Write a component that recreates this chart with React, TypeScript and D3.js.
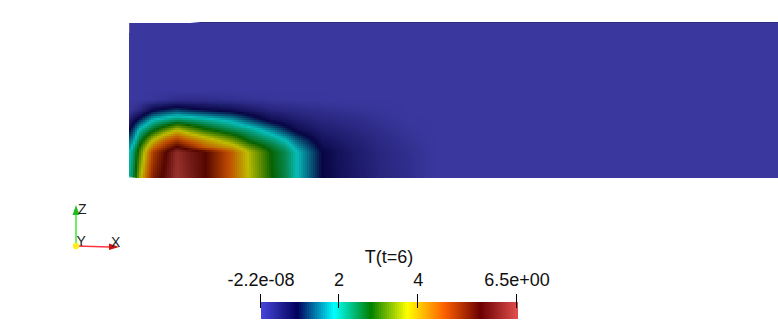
import React from "react";
import * as d3 from "d3";

// Temperature field T(x, z): one row per height, one value per column.
const columnX = [129, 133, 140, 153, 165, 177, 190, 205, 232, 250, 272, 285, 297, 322, 345, 380, 410, 436];
const rowY = [178, 152, 147, 140, 130, 120, 110, 100, 90];
const row178 = [2.0, 2.4, 3.6, 5.2, 5.7, 6.35, 6.0, 5.6, 4.5, 3.65, 2.8, 2.45, 1.86, 0.93, 0.65, 0.35, 0.18, 0];
const row152 = [1.8, 2.2, 3.1, 4.8, 5.5, 6.25, 5.9, 5.6, 4.5, 3.6, 2.75, 2.4, 1.86, 0.93, 0.62, 0.33, 0.16, 0];
const row147 = [1.6, 1.95, 2.9, 4.3, 5.0, 5.6, 5.1, 4.5, 3.95, 3.2, 2.55, 2.2, 1.65, 0.82, 0.57, 0.3, 0.14, 0];
const row140 = [1.4, 1.6, 2.5, 3.7, 4.4, 4.85, 4.4, 4.0, 3.3, 2.65, 2.2, 1.85, 1.35, 0.68, 0.5, 0.27, 0.1, 0];
const row130 = [0.9, 1.2, 1.95, 2.65, 3.2, 3.71, 3.3, 2.9, 2.4, 2.1, 1.55, 1.15, 0.8, 0.5, 0.38, 0.2, 0.05, 0];
const row120 = [0.4, 0.7, 1.1, 1.86, 2.1, 2.3, 2.2, 2.05, 1.7, 1.25, 0.75, 0.62, 0.5, 0.33, 0.26, 0.12, 0.02, 0];
const row110 = [0, 0.1, 0.3, 0.85, 1.05, 1.2, 1.05, 0.93, 0.75, 0.55, 0.35, 0.3, 0.25, 0.17, 0.12, 0.05, 0, 0];
const row100 = [0, 0, 0, 0.05, 0.12, 0.2, 0.2, 0.2, 0.15, 0.1, 0.06, 0.04, 0.03, 0.02, 0, 0, 0, 0];
const row90 = [0, 0, 0, 0, 0, 0, 0, 0, 0, 0, 0, 0, 0, 0, 0, 0, 0, 0];
const rows = [row178, row152, row147, row140, row130, row120, row110, row100, row90];

// ParaView "rainbow desaturated" colour map
const mapColors = ["#4747db", "#00005c", "#00ffff", "#008000", "#ffff00", "#ff6100", "#6b0000", "#e04d4d"];
const tMax = 6.5;
const legendTicks = [
  { v: 0, label: "-2.2e-08" },
  { v: 1.98, label: "2" },
  { v: 3.99, label: "4" },
  { v: 6.5, label: "6.5e+00" },
];

const W = 778, H = 322;
const FONT = "'Liberation Sans', Arial, sans-serif";
const LIGHT = 0.72;

const colorScale = d3
  .scaleLinear<string>()
  .domain(mapColors.map((_, i) => (i / (mapColors.length - 1)) * tMax))
  .range(mapColors)
  .interpolate(d3.interpolateRgb)
  .clamp(true);

const lit = (t: number) => {
  const c = d3.rgb(colorScale(t));
  return `rgb(${Math.round(c.r * LIGHT + 7)},${Math.round(c.g * LIGHT + 5)},${Math.round(c.b * LIGHT + 1)})`;
};

const colIndex = d3.scaleLinear().domain(columnX).range(columnX.map((_, i) => i)).clamp(true);
const rowIndex = d3.scaleLinear().domain(rowY.slice().reverse()).range(rowY.map((_, i) => rowY.length - 1 - i)).clamp(true);

function field(x: number, y: number) {
  const cf = colIndex(x), rf = rowIndex(y);
  const c0 = Math.min(Math.floor(cf), columnX.length - 2);
  const r0 = Math.min(Math.floor(rf), rowY.length - 2);
  const a = cf - c0, b = rf - r0;
  return (
    rows[r0][c0] * (1 - a) * (1 - b) +
    rows[r0][c0 + 1] * a * (1 - b) +
    rows[r0 + 1][c0] * (1 - a) * b +
    rows[r0 + 1][c0 + 1] * a * b
  );
}

const legendX = d3.scaleLinear().domain([0, tMax]).range([261, 517]);
const BAND = 2;
const cells: { x: number; y: number; t: number }[] = [];
for (let y = 90; y < 178; y += BAND) {
  for (let x = 129; x < 436; x += BAND) {
    const t = field(x + BAND / 2, y + BAND / 2);
    if (t > 0.005) cells.push({ x, y, t });
  }
}
const legendBands = d3.range(0, 128).map((i) => (i + 0.5) / 128 * tMax);

export default function App() {
  return (
    <svg
      width={W}
      height={H}
      viewBox={`0 0 ${W} ${H}`}
      style={{ position: "fixed", left: 0, top: 0, background: "#fff", display: "block" }}
    >
      <path d="M129,23 L190,23 L200,22 L778,22 L778,178 L129,178 Z" fill={lit(0)} />
      <rect x={200} y={22} width={578} height={1} fill="#2e2e84" />
      <rect x={129} y={23} width={1} height={10} fill="#7a7ab8" opacity={0.6} />
      <g shapeRendering="crispEdges">
        {cells.map((c, i) => (
          <rect key={i} x={c.x} y={c.y} width={BAND} height={BAND} fill={lit(c.t)} />
        ))}
      </g>
      <path d="M129,178 L129,176.5 L137,178 Z" fill="#fff" opacity={0.6} />

      {/* orientation axes */}
      <line x1={76} y1={246} x2={76} y2={214} stroke="#33ee33" strokeWidth={1.5} />
      <path d="M72.5,215 L76,205 L79.5,215 Z" fill="#22bb22" />
      <line x1={76} y1={246} x2={110} y2={247} stroke="#ff3344" strokeWidth={1.5} />
      <path d="M109,243.5 L119,247 L109,250 Z" fill="#cc1111" />
      <circle cx={76} cy={246} r={3.2} fill="#ffee22" />
      <g fontFamily={FONT} fontSize={14} fill="#222">
        <text x={78} y={214}>Z</text>
        <text x={76.5} y={246}>Y</text>
        <text x={111} y={247}>X</text>
      </g>

      {/* colour legend */}
      <g shapeRendering="crispEdges">
        {legendBands.map((t, i) => (
          <rect key={i} x={legendX(t) - 1} y={302} width={2.5} height={17} fill={colorScale(t)} />
        ))}
        {legendTicks.map((d) => (
          <line key={d.label} x1={legendX(d.v) - 0.5} x2={legendX(d.v) - 0.5} y1={294} y2={308} stroke="#000" />
        ))}
      </g>
      <g fontFamily={FONT} fontSize={18} fill="#111" textAnchor="middle">
        <text x={389} y={263}>T(t=6)</text>
        {legendTicks.map((d) => (
          <text key={d.label} x={legendX(d.v)} y={286}>{d.label}</text>
        ))}
      </g>
    </svg>
  );
}
